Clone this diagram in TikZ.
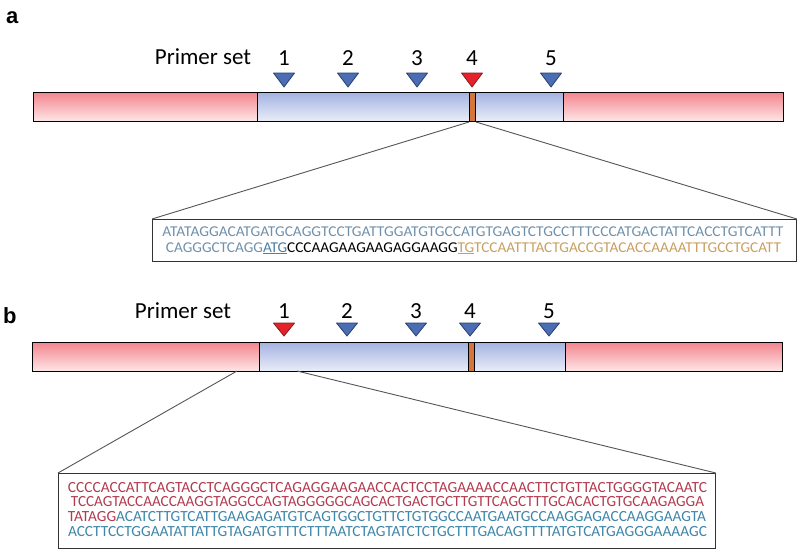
\documentclass[tikz,border=0pt]{standalone}
\usepackage{fontspec}
\usepackage{graphicx}
\setmainfont{Carlito}
\newfontfamily\panelfont{Liberation Sans}
\definecolor{redtop}{HTML}{F2838C}
\definecolor{redbot}{HTML}{FDE2E3}
\definecolor{bluetop}{HTML}{A2B1E1}
\definecolor{bluebot}{HTML}{E7EBF7}
\definecolor{markorange}{HTML}{D4763B}
\definecolor{tribluefill}{HTML}{4A6DB3}
\definecolor{triblueedge}{HTML}{2A3F70}
\definecolor{triredfill}{HTML}{E3222B}
\definecolor{triredge}{HTML}{8A1A1A}
\definecolor{seqgray}{HTML}{7191AB}
\definecolor{seqblue}{HTML}{4E7FA3}
\definecolor{seqtan}{HTML}{C9A062}
\definecolor{seqred}{HTML}{B33B50}
\definecolor{seqteal}{HTML}{3E86AA}
\definecolor{zoomgray}{HTML}{555555}
\newcommand{\seqrow}[2]{\resizebox{#1}{\height}{#2}}
% vertical gradient in picture coordinates (y grows downwards): #1,#2 x range, #3 top y, #4 top colour, #5 bottom colour
\newcommand{\gradstrip}[5]{%
  \foreach \i in {0,...,28}{%
    \pgfmathtruncatemacro{\pct}{100-\i*100/28}%
    \fill[#4!\pct!#5] (#1,#3+\i) rectangle (#2,#3+\i+1.3);%
  }}
\begin{document}
\begin{tikzpicture}[x=1pt,y=-1pt,
  seg/.style={draw=black, line width=1.2pt, inner sep=0pt, anchor=north west, minimum height=29pt},
  redseg/.style={seg},
  blueseg/.style={seg},
  markseg/.style={seg, fill=markorange, line width=1pt},
  bluetri/.style={fill=tribluefill, draw=triblueedge, line width=0.8pt, line join=round},
  redtri/.style={fill=triredfill, draw=triredge, line width=0.8pt, line join=round},
  numlab/.style={anchor=base, inner sep=0pt, font=\fontsize{23}{26}\selectfont},
  primlab/.style={anchor=base, inner sep=0pt, font=\fontsize{23}{26}\selectfont},
  panlab/.style={anchor=base west, inner sep=0pt, font=\panelfont\bfseries\fontsize{22}{24}\selectfont},
  seqbox/.style={draw=black!80, line width=0.9pt, anchor=north west, inner sep=0pt, fill=white},
  seqtext/.style={anchor=base, inner sep=0pt, font=\fontsize{15}{16}\selectfont},
  seqtextb/.style={anchor=base, inner sep=0pt, font=\fontsize{15.5}{16}\selectfont},
  zoomline/.style={draw=zoomgray, line width=0.9pt}
]
\useasboundingbox (0,0) rectangle (800,552);
\fill[white] (0,0) rectangle (800,552);

% ---------------- panel a ----------------
\node[panlab] (labA) at (6,23) {a};
\node[primlab] (primA) at (203,64) {Primer set};

\gradstrip{33}{257}{92}{redtop}{redbot}
\gradstrip{257}{469}{92}{bluetop}{bluebot}
\gradstrip{475}{563}{92}{bluetop}{bluebot}
\gradstrip{563}{783}{92}{redtop}{redbot}
\node[redseg, minimum width=224pt] (aL) at (33,92) {};
\node[blueseg, minimum width=212pt] (aM1) at (257,92) {};
\node[markseg, minimum width=6pt] (aK) at (469,92) {};
\node[blueseg, minimum width=88pt] (aM2) at (475,92) {};
\node[redseg, minimum width=220pt] (aR) at (563,92) {};

\foreach \n/\x/\s in {1/284/bluetri,2/348/bluetri,3/417/bluetri,4/472/redtri,5/551/bluetri}{
  \node[numlab] (aN\n) at (\x,65) {\n};
  \draw[\s] (\x-10.5,73) -- (\x+10.5,73) -- (\x,87) -- cycle;
}

\node[seqbox, minimum width=644pt, minimum height=42pt] (aBox) at (152,219) {};
\draw[zoomline] (aK.south west) -- (aBox.north west);
\draw[zoomline] (aK.south east) -- (aBox.north east);

\node[seqtext] (aS1) at (473,236) {\seqrow{621pt}{\color{seqgray}ATATAGGACATGATGCAGGTCCTGATTGGATGTGCCATGTGAGTCTGCCTTTCCCATGACTATTCACCTGTCATTT}};
\node[seqtext] (aS2) at (473.5,252) {\seqrow{615pt}{{\color{seqgray}CAGGGCTCAGG}{\color{seqblue}\underline{ATG}}{\color{black}CCCAAGAAGAAGAGGAAGG}{\color{seqtan}\underline{TG}TCCAATTTACTGACCGTACACCAAAATTTGCCTGCATT}}};

% ---------------- panel b ----------------
\node[panlab] (labB) at (3,323) {b};
\node[primlab] (primB) at (183,318) {Primer set};

\gradstrip{32}{259}{342}{redtop}{redbot}
\gradstrip{259}{468}{342}{bluetop}{bluebot}
\gradstrip{474}{565}{342}{bluetop}{bluebot}
\gradstrip{565}{782}{342}{redtop}{redbot}
\node[redseg, minimum width=227pt] (bL) at (32,342) {};
\node[blueseg, minimum width=209pt] (bM1) at (259,342) {};
\node[markseg, minimum width=6pt] (bK) at (468,342) {};
\node[blueseg, minimum width=91pt] (bM2) at (474,342) {};
\node[redseg, minimum width=217pt] (bR) at (565,342) {};

\foreach \n/\x/\s in {1/284/redtri,2/347/bluetri,3/416/bluetri,4/470/bluetri,5/549/bluetri}{
  \node[numlab] (bN\n) at (\x,318) {\n};
  \draw[\s] (\x-10.5,323) -- (\x+10.5,323) -- (\x,336) -- cycle;
}

\node[seqbox, minimum width=657pt, minimum height=75pt] (bBox) at (58,473) {};
\coordinate (bZL) at (237,371);
\coordinate (bZR) at (297,371);
\draw[zoomline] (bZL) -- (bBox.north west);
\draw[zoomline] (bZR) -- (bBox.north east);

\node[seqtextb] (bS1) at (387.5,492) {\seqrow{639pt}{\color{seqred}CCCCACCATTCAGTACCTCAGGGCTCAGAGGAAGAACCACTCCTAGAAAACCAACTTCTGTTACTGGGGTACAATC}};
\node[seqtextb] (bS2) at (387.5,506.7) {\seqrow{633pt}{\color{seqred}TCCAGTACCAACCAAGGTAGGCCAGTAGGGGGCAGCACTGACTGCTTGTTCAGCTTTGCACACTGTGCAAGAGGA}};
\node[seqtextb] (bS3) at (387,521.3) {\seqrow{638pt}{{\color{seqred}TATAGG}{\color{seqteal}ACATCTTGTCATTGAAGAGATGTCAGTGGCTGTTCTGTGGCCAATGAATGCCAAGGAGACCAAGGAAGTA}}};
\node[seqtextb] (bS4) at (387.5,536) {\seqrow{639pt}{\color{seqteal}ACCTTCCTGGAATATTATTGTAGATGTTTCTTTAATCTAGTATCTCTGCTTTGACAGTTTTATGTCATGAGGGAAAAGC}};
\end{tikzpicture}
\end{document}
